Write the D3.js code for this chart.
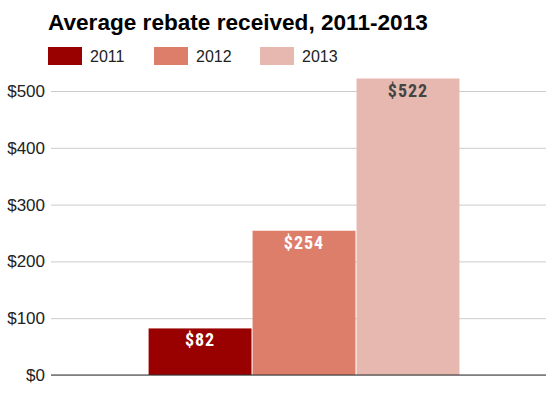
<!DOCTYPE html>
<html>
<head>
  <script src="https://cdn.jsdelivr.net/npm/d3@7"></script>
  <style>
    body { margin: 0; background: #fff; }
  </style>
</head>
<body>
  <svg width="552" height="398" id="chart"></svg>
  <script>
    // data
    const years = ['2011', '2012', '2013'];
    const rebates = [82, 254, 522];
    const colors = ['#990000', '#dd7e6b', '#e6b8af'];
    const labelColors = ['#ffffff', '#ffffff', '#444444'];
    const yTicks = [0, 100, 200, 300, 400, 500];
    const title = 'Average rebate received, 2011-2013';

    const svg = d3.select('#chart');
    const width = +svg.attr('width');
    const height = +svg.attr('height');
    const margin = { top: 91, right: 6, bottom: 23, left: 51 };

    const y = d3.scaleLinear()
      .domain([0, 500])
      .range([height - margin.bottom, margin.top]);

    // one group holding the three yearly bars
    const x0 = d3.scaleBand()
      .domain(['all'])
      .range([margin.left, width - margin.right])
      .padding(0.2285)
      .align(0.53);
    const x1 = d3.scaleBand()
      .domain(years)
      .range([0, x0.bandwidth()])
      .paddingInner(0.01);

    const color = d3.scaleOrdinal().domain(years).range(colors);
    const data = years.map((yr, i) => ({ year: yr, value: rebates[i], lc: labelColors[i] }));

    // title
    svg.append('text')
      .attr('x', 48).attr('y', 30)
      .attr('font-family', 'Liberation Sans, Arial, sans-serif')
      .attr('font-weight', 'bold')
      .attr('font-size', 22.6)
      .attr('fill', '#000')
      .text(title);

    // legend
    const lg = svg.append('g').attr('transform', 'translate(48, 47)');
    const item = lg.selectAll('.legitem').data(years).join('g')
      .attr('class', 'legitem')
      .attr('transform', (d, i) => `translate(${i * 106}, 0)`);
    item.append('rect')
      .attr('width', 34).attr('height', 18)
      .attr('fill', d => color(d));
    item.append('text')
      .attr('x', 42).attr('y', 15)
      .attr('font-family', 'Liberation Sans, Arial, sans-serif')
      .attr('font-size', 16)
      .attr('fill', '#222')
      .text(d => d);

    // y axis with gridlines
    const yAxis = d3.axisLeft(y)
      .tickValues(yTicks)
      .tickSize(-(width - margin.left - margin.right))
      .tickPadding(6)
      .tickFormat(d => '$' + d);
    const yg = svg.append('g')
      .attr('transform', `translate(${margin.left}, 0)`)
      .call(yAxis);
    yg.select('.domain').remove();
    yg.selectAll('.tick line').attr('stroke', '#cccccc');
    yg.selectAll('.tick text')
      .attr('font-family', 'Liberation Sans, Arial, sans-serif')
      .attr('font-size', 17)
      .attr('fill', '#222');

    // bars
    const bg = svg.append('g').attr('transform', `translate(${x0('all')}, 0)`);
    bg.selectAll('.bar').data(data).join('rect')
      .attr('class', 'bar')
      .attr('x', d => x1(d.year))
      .attr('width', x1.bandwidth())
      .attr('y', d => y(d.value))
      .attr('height', d => y(0) - y(d.value))
      .attr('fill', d => color(d.year));

    bg.selectAll('.vlabel').data(data).join('text')
      .attr('class', 'vlabel')
      .attr('x', d => x1(d.year) + x1.bandwidth() / 2)
      .attr('y', d => y(d.value) + 18)
      .attr('text-anchor', 'middle')
      .attr('font-family', 'Liberation Sans Narrow, Roboto Condensed, Roboto, sans-serif')
      .attr('font-weight', 'bold')
      .attr('font-size', 18)
      .attr('letter-spacing', 1)
      .attr('fill', d => d.lc)
      .text(d => '$' + d.value);

    // baseline
    svg.append('line')
      .attr('x1', margin.left).attr('x2', width - margin.right)
      .attr('y1', y(0)).attr('y2', y(0))
      .attr('stroke', '#333').attr('stroke-width', 1);
  </script>
</body>
</html>
